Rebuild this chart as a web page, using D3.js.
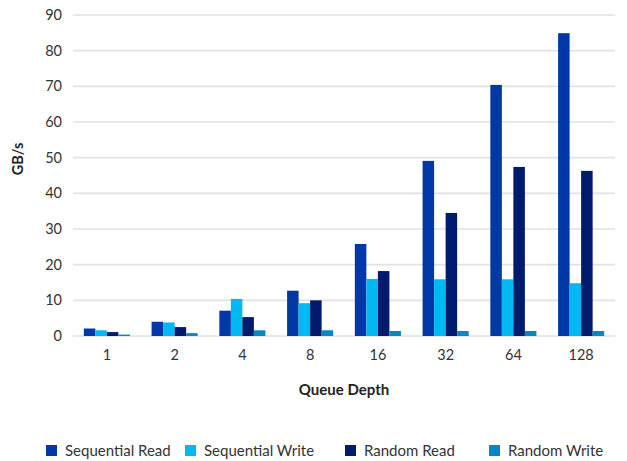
<!DOCTYPE html>
<html>
<head>
<meta charset="utf-8">
<script src="https://cdn.jsdelivr.net/npm/d3@7"></script>
<style>
  html, body { margin: 0; padding: 0; background: #fff; }
  svg { display: block; font-family: Lato, "Open Sans", sans-serif; }
</style>
</head>
<body>
<svg id="chart" width="627" height="461"></svg>
<script>
// Queue depths on the x axis
const queueDepths = ["1", "2", "4", "8", "16", "32", "64", "128"];
// Throughput per series, GB/s
const seqRead   = [2.1, 4.0, 7.1, 12.7, 25.8, 49.1, 70.4, 84.9];
const seqWrite  = [1.6, 3.8, 10.4, 9.2, 16.0, 15.9, 15.9, 14.8];
const randRead  = [1.1, 2.5, 5.3, 10.0, 18.2, 34.5, 47.4, 46.3];
const randWrite = [0.4, 0.8, 1.6, 1.6, 1.4, 1.4, 1.4, 1.4];
const seriesNames = ["Sequential Read", "Sequential Write", "Random Read", "Random Write"];
const seriesColors = ["#0038a8", "#00b9f2", "#001b6e", "#0089c4"];
const yTicks = [0, 10, 20, 30, 40, 50, 60, 70, 80, 90];

const series = [seqRead, seqWrite, randRead, randWrite];

const svg = d3.select("#chart");
const plot = { left: 73, right: 615, top: 15, bottom: 336 };
const fontSize = 14.5;

const x = d3.scaleBand().domain(queueDepths).range([plot.left, plot.right]).paddingInner(0.32).paddingOuter(0.16);
const xs = d3.scaleBand().domain(d3.range(series.length)).range([0, x.bandwidth()]);
const y = d3.scaleLinear().domain([0, 90]).range([plot.bottom, plot.top]);

// Horizontal gridlines
svg.append("g").selectAll("line").data(yTicks).join("line")
  .attr("x1", plot.left).attr("x2", plot.right)
  .attr("y1", d => y(d)).attr("y2", d => y(d))
  .attr("stroke", "#e2e2e2").attr("stroke-width", 1.6);

// Y axis labels
const yAxis = svg.append("g").attr("transform", `translate(${plot.left},0)`)
  .call(d3.axisLeft(y).tickValues(yTicks).tickSize(0).tickPadding(11));
yAxis.select(".domain").remove();
yAxis.selectAll("text").attr("font-size", fontSize).attr("fill", "#333")
  .attr("font-family", "Lato, 'Open Sans', sans-serif");

// X axis labels
const xAxis = svg.append("g").attr("transform", `translate(0,${plot.bottom})`)
  .call(d3.axisBottom(x).tickSize(0).tickPadding(14));
xAxis.select(".domain").remove();
xAxis.selectAll("text").attr("font-size", fontSize).attr("fill", "#333")
  .attr("font-family", "Lato, 'Open Sans', sans-serif");

// Bars
series.forEach((vals, si) => {
  svg.append("g").selectAll("rect").data(vals).join("rect")
    .attr("x", (d, i) => x(queueDepths[i]) + xs(si))
    .attr("y", d => y(d))
    .attr("width", xs.bandwidth())
    .attr("height", d => y(0) - y(d))
    .attr("fill", seriesColors[si]);
});

// Axis titles
svg.append("text")
  .attr("transform", "translate(18,159) rotate(-90)")
  .attr("text-anchor", "middle").attr("dy", "0.35em")
  .attr("font-size", fontSize).attr("font-weight", "bold").attr("fill", "#222")
  .text("GB/s");

svg.append("text")
  .attr("x", (plot.left + plot.right) / 2).attr("y", 395)
  .attr("text-anchor", "middle")
  .attr("font-size", 15).attr("font-weight", "bold").attr("fill", "#222")
  .text("Queue Depth");

// Legend
const legendX = [46, 185, 345, 489];
const legend = svg.append("g").selectAll("g").data(seriesNames).join("g")
  .attr("transform", (d, i) => `translate(${legendX[i]},445)`);
legend.append("rect").attr("width", 11).attr("height", 11)
  .attr("fill", (d, i) => seriesColors[i]);
legend.append("text").attr("x", 19).attr("y", 5.5).attr("dy", "0.35em")
  .attr("font-size", 15).attr("fill", "#333").text(d => d);
</script>
</body>
</html>
